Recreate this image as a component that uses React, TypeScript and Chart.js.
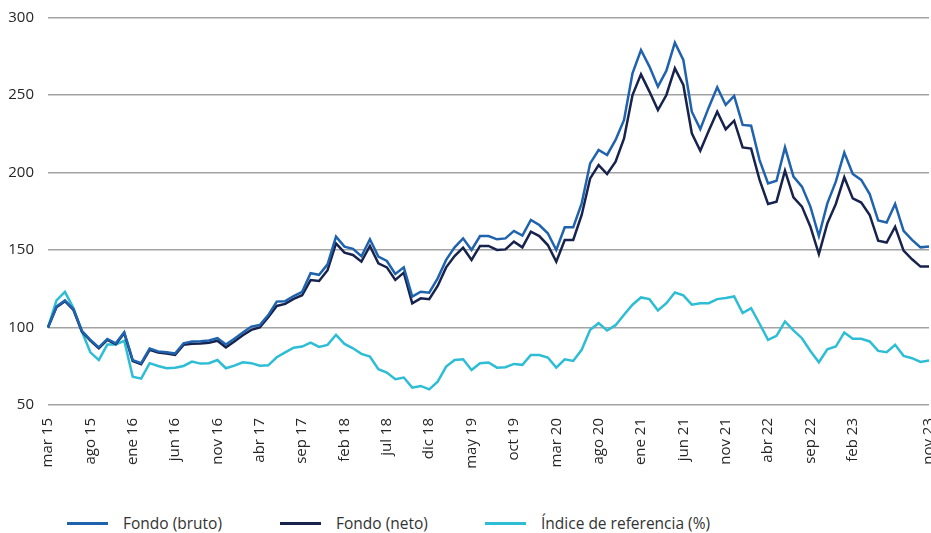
import React, { useEffect, useRef } from "react";
import { Chart, registerables } from "chart.js";

Chart.register(...registerables);

const categories: string[] = [
  "mar 15", "abr 15", "may 15", "jun 15", "jul 15", "ago 15", "sep 15", "oct 15", "nov 15", "dic 15",
  "ene 16", "feb 16", "mar 16", "abr 16", "may 16", "jun 16", "jul 16", "ago 16", "sep 16", "oct 16", "nov 16", "dic 16",
  "ene 17", "feb 17", "mar 17", "abr 17", "may 17", "jun 17", "jul 17", "ago 17", "sep 17", "oct 17", "nov 17", "dic 17",
  "ene 18", "feb 18", "mar 18", "abr 18", "may 18", "jun 18", "jul 18", "ago 18", "sep 18", "oct 18", "nov 18", "dic 18",
  "ene 19", "feb 19", "mar 19", "abr 19", "may 19", "jun 19", "jul 19", "ago 19", "sep 19", "oct 19", "nov 19", "dic 19",
  "ene 20", "feb 20", "mar 20", "abr 20", "may 20", "jun 20", "jul 20", "ago 20", "sep 20", "oct 20", "nov 20", "dic 20",
  "ene 21", "feb 21", "mar 21", "abr 21", "may 21", "jun 21", "jul 21", "ago 21", "sep 21", "oct 21", "nov 21", "dic 21",
  "ene 22", "feb 22", "mar 22", "abr 22", "may 22", "jun 22", "jul 22", "ago 22", "sep 22", "oct 22", "nov 22", "dic 22",
  "ene 23", "feb 23", "mar 23", "abr 23", "may 23", "jun 23", "jul 23", "ago 23", "sep 23", "oct 23", "nov 23",
];

const shownTicks: string[] = [
  "mar 15", "ago 15", "ene 16", "jun 16", "nov 16", "abr 17", "sep 17", "feb 18", "jul 18", "dic 18",
  "may 19", "oct 19", "mar 20", "ago 20", "ene 21", "jun 21", "nov 21", "abr 22", "sep 22", "feb 23", "nov 23",
];

const fondoBruto: number[] = [
  100, 113.5, 117.5, 111.8, 97.8, 92, 87.2, 92.6, 89.8, 97,
  79, 77, 86.4, 84.6, 84, 83.2, 89.8, 90.9, 91.1, 91.6,
  93.2, 89, 92.8, 96.8, 100.6, 101.6, 108, 116.7, 117, 120.3,
  123, 135, 134, 140.7, 158.6, 152.2, 150.7, 146, 156.9, 145.7,
  142.9, 134.5, 138.8, 119.9, 123.1, 122.5, 131.7, 143.6, 151.7, 157.5,
  150, 159, 159, 156.9, 157.5, 162.3, 159.3, 169.4, 166.1, 160.8,
  150, 164.6, 164.6, 180.1, 205.9, 214.5, 211.3, 221, 233.9, 264,
  279, 268.3, 255.4, 265.7, 283.8, 272.6, 239.2, 228, 242, 255,
  243.6, 249.4, 230.7, 230.2, 208, 193, 194.7, 216.2, 197.3, 190.9,
  178, 159, 180.1, 194.1, 212.8, 199, 195.2, 186.1, 169, 167.7,
  179.7, 162.3, 156.5, 151.7, 152.2,
];

const fondoNeto: number[] = [
  100, 113, 117, 111.4, 97.4, 91.6, 86.6, 92, 89.2, 96.3,
  78.4, 76.3, 85.6, 83.8, 83.2, 82.3, 88.8, 89.5, 89.7, 90.2,
  91.5, 87.2, 91, 95, 98.5, 100, 106.6, 113.9, 115.2, 118.4,
  120.8, 130.6, 130, 137, 154.3, 148.3, 146.8, 142.5, 152.6, 141.4,
  138.8, 130.7, 135.4, 115.6, 118.8, 118.2, 126.8, 138.8, 146.1, 151.5,
  143.6, 152.6, 152.6, 150, 150.4, 155.4, 151.7, 161.8, 159, 153.2,
  142.5, 156.5, 156.5, 172.6, 196.2, 204.8, 199, 207, 222, 250,
  263.3, 252.2, 240.3, 250, 267.2, 256.5, 225.3, 214, 227, 239.2,
  227.9, 233.4, 216.2, 215.4, 195.2, 179.7, 181.2, 201.2, 184, 178,
  165, 147.4, 167.2, 179.7, 196.9, 183.3, 180.6, 172.6, 156, 154.8,
  165, 149.6, 144, 139.3, 139.3,
];

const indiceReferencia: number[] = [
  100, 117.5, 123, 112.5, 97.4, 84, 79, 89, 89, 91.4,
  68.3, 67, 77, 75.2, 73.7, 74, 75.2, 78, 76.7, 77,
  79, 73.7, 75.4, 77.6, 77, 75.4, 75.6, 80.8, 84, 87,
  87.7, 90.3, 87.5, 88.8, 95.3, 89.4, 86.6, 83, 81.3, 73.1,
  70.9, 66.6, 67.7, 61.2, 62.3, 60.1, 65.1, 74.8, 79.1, 79.5,
  72.6, 76.9, 77.4, 74.1, 74.4, 76.5, 75.9, 82.3, 82.3, 80.6,
  74.1, 79.5, 78.4, 85.6, 98.5, 102.8, 98.1, 101.5, 108.2, 114.7,
  119.4, 118.3, 111, 115.7, 122.6, 120.7, 114.7, 115.7, 115.7, 118.3,
  119, 120, 109.3, 112.5, 102.4, 92, 94.6, 103.9, 98.1, 93.1,
  84.9, 77.6, 86, 87.7, 96.8, 92.7, 92.7, 91, 84.9, 84.1,
  88.8, 81.7, 80.2, 77.8, 78.7,
];

const seriesNames: string[] = ["Fondo (bruto)", "Fondo (neto)", "Índice de referencia (%)"];
const seriesColors: string[] = ["#1f62ae", "#17234d", "#2dbdd4"];

const yMin = 50;
const yMax = 300;
const yStep = 50;

const FONT = "'Open Sans', 'Noto Sans', sans-serif";
const TEXT_COLOR = "#262626";
const GRID_COLOR = "#a3a3a3";

export default function App() {
  const canvasRef = useRef<HTMLCanvasElement | null>(null);

  useEffect(() => {
    if (!canvasRef.current) return;
    const seriesData = [fondoBruto, fondoNeto, indiceReferencia];
    const chart = new Chart(canvasRef.current, {
      type: "line",
      data: {
        labels: categories,
        datasets: seriesNames.map((name, k) => ({
          label: name,
          data: seriesData[k],
          borderColor: seriesColors[k],
          backgroundColor: seriesColors[k],
          borderWidth: 2.5,
          pointRadius: 0,
          pointHoverRadius: 0,
          tension: 0,
          fill: false,
          borderJoinStyle: "miter" as const,
        })),
      },
      options: {
        animation: false,
        responsive: false,
        maintainAspectRatio: false,
        layout: { padding: { top: 17.5, right: 2, left: 0, bottom: 0 } },
        plugins: {
          legend: { display: false },
          tooltip: { enabled: false },
        },
        scales: {
          x: {
            grid: { display: false, drawTicks: false },
            border: { display: false },
            ticks: {
              autoSkip: false,
              minRotation: 90,
              maxRotation: 90,
              padding: 13,
              color: TEXT_COLOR,
              font: { family: FONT, size: 15 },
              callback: (_v: any, i: number) => (shownTicks.includes(categories[i]) ? categories[i] : ""),
            },
            afterFit: (scale: any) => {
              scale.height = 75;
              scale.paddingLeft = 0;
              scale.paddingRight = 0;
            },
          },
          y: {
            min: yMin,
            max: yMax,
            ticks: {
              stepSize: yStep,
              padding: 14,
              color: TEXT_COLOR,
              font: { family: FONT, size: 15 },
            },
            grid: { color: GRID_COLOR, lineWidth: 1.5, drawTicks: false },
            border: { display: false },
            afterFit: (scale: any) => {
              scale.width = 48;
              scale.paddingTop = 0;
              scale.paddingBottom = 0;
            },
          },
        },
      },
    });
    return () => chart.destroy();
  }, []);

  const legendLefts = [67, 280, 485];

  return (
    <div style={{ position: "fixed", left: 0, top: 0, width: 931, height: 533, background: "#fff", overflow: "hidden" }}>
      <canvas ref={canvasRef} width={931} height={480} style={{ display: "block", width: 931, height: 480 }} />
      {seriesNames.map((name, k) => (
        <div
          key={name}
          style={{
            position: "absolute",
            left: legendLefts[k],
            top: 512,
            height: 22,
            display: "flex",
            alignItems: "center",
            fontFamily: FONT,
            fontSize: 15.5,
            color: "#333",
            whiteSpace: "nowrap",
          }}
        >
          <span style={{ display: "inline-block", width: 41, height: 3, background: seriesColors[k], marginRight: 15 }} />
          <span>{name}</span>
        </div>
      ))}
    </div>
  );
}
